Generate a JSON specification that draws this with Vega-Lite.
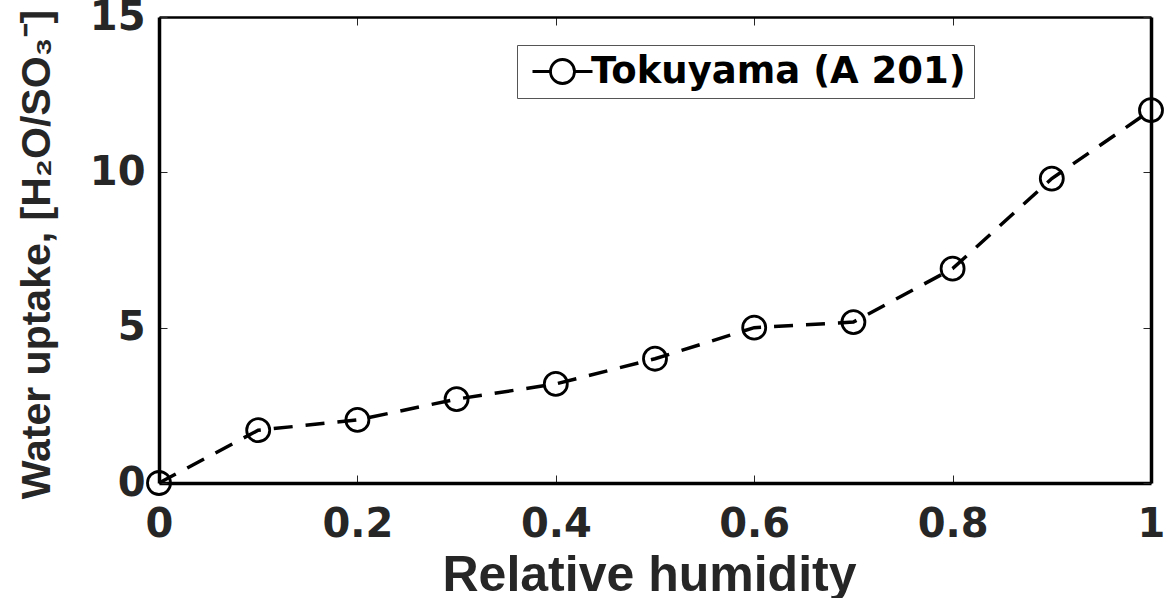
{
  "$schema": "https://vega.github.io/schema/vega-lite/v6.json",
  "width": 992,
  "height": 466,
  "autosize": {"type": "none"},
  "padding": {"left": 159, "top": 17, "right": 22, "bottom": 115},
  "background": "white",
  "config": {
    "view": {"stroke": null},
    "font": "Liberation Sans",
    "axis": {
      "labelFont": "DejaVu Sans",
      "labelFontWeight": "bold",
      "labelFontSize": 40,
      "labelColor": "#262626",
      "titleFont": "Liberation Sans",
      "titleFontWeight": "bold",
      "titleFontSize": 50,
      "titleColor": "#262626",
      "domainColor": "black",
      "domainWidth": 3.5,
      "tickColor": "#262626",
      "tickWidth": 1,
      "tickSize": -8,
      "grid": false
    }
  },
  "data": {
    "values": [
      {"rh": 0.0, "w": 0.0, "series": "Tokuyama (A 201)"},
      {"rh": 0.1, "w": 1.7, "series": "Tokuyama (A 201)"},
      {"rh": 0.2, "w": 2.03, "series": "Tokuyama (A 201)"},
      {"rh": 0.3, "w": 2.7, "series": "Tokuyama (A 201)"},
      {"rh": 0.4, "w": 3.19, "series": "Tokuyama (A 201)"},
      {"rh": 0.5, "w": 4.0, "series": "Tokuyama (A 201)"},
      {"rh": 0.6, "w": 5.0, "series": "Tokuyama (A 201)"},
      {"rh": 0.7, "w": 5.18, "series": "Tokuyama (A 201)"},
      {"rh": 0.8, "w": 6.9, "series": "Tokuyama (A 201)"},
      {"rh": 0.9, "w": 9.8, "series": "Tokuyama (A 201)"},
      {"rh": 1.0, "w": 12.0, "series": "Tokuyama (A 201)"}
    ]
  },
  "layer": [
    {
      "mark": {"type": "line", "color": "black", "strokeWidth": 3.5, "strokeDash": [19, 13], "clip": false},
      "encoding": {
        "x": {
          "field": "rh", "type": "quantitative",
          "scale": {"domain": [0, 1], "nice": false},
          "axis": {
            "orient": "bottom",
            "values": [0, 0.2, 0.4, 0.6, 0.8, 1],
            "format": ".1~f",
            "labelPadding": 29,
            "labelFlush": false,
            "title": "Relative humidity",
            "titleBaseline": "alphabetic",
            "titleX": 490,
            "titleY": 107
          }
        },
        "y": {
          "field": "w", "type": "quantitative",
          "scale": {"domain": [0, 15], "nice": false},
          "axis": {
            "orient": "left",
            "values": [0, 5, 10, 15],
            "labelPadding": 22,
            "labelFlush": false,
            "title": "Water uptake, [H₂O/SO₃⁻]",
            "titleFontSize": 41,
            "titleBaseline": "alphabetic",
            "titleAngle": -90,
            "titleX": -110,
            "titleY": 237
          }
        }
      }
    },
    {
      "mark": {"type": "point", "filled": false, "size": 530, "strokeWidth": 2.8, "opacity": 1, "clip": false},
      "encoding": {
        "x": {
          "field": "rh", "type": "quantitative",
          "scale": {"domain": [0, 1], "nice": false},
          "axis": {"orient": "top", "values": [0, 0.2, 0.4, 0.6, 0.8, 1], "labels": false, "title": null, "domainWidth": 2.5}
        },
        "y": {
          "field": "w", "type": "quantitative",
          "scale": {"domain": [0, 15], "nice": false},
          "axis": {"orient": "right", "values": [0, 5, 10, 15], "labels": false, "title": null}
        },
        "color": {
          "field": "series", "type": "nominal",
          "scale": {"range": ["black"]},
          "legend": {
            "title": null,
            "orient": "none",
            "legendX": 358,
            "legendY": 28,
            "padding": 8,
            "strokeColor": "#555555",
            "fillColor": "white",
            "labelFont": "DejaVu Sans",
            "labelFontWeight": "bold",
            "labelFontSize": 37,
            "labelColor": "black",
            "labelLimit": 0,
            "labelOffset": 10,
            "symbolType": "M-2.5,0L-1,0M1,0L2.5,0M-1,0A1,1 0 1,1 1,0A1,1 0 1,1 -1,0",
            "symbolSize": 576,
            "symbolOffset": 19,
            "symbolStrokeWidth": 2.8,
            "symbolStrokeColor": "black",
            "symbolFillColor": "transparent"
          }
        }
      }
    }
  ],
  "resolve": {"axis": {"x": "independent", "y": "independent"}}
}
